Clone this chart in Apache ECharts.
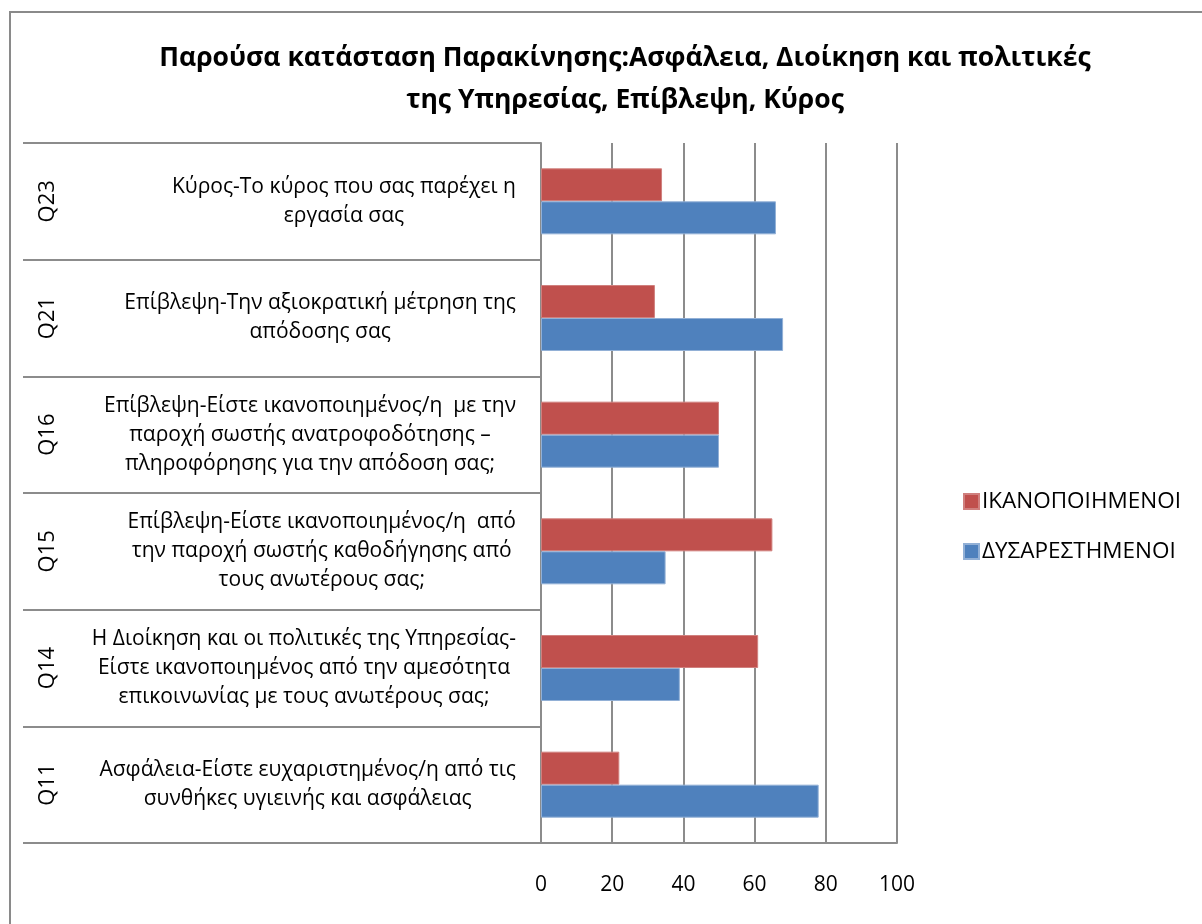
<!DOCTYPE html>
<html>
<head>
<meta charset="utf-8">
<script src="https://cdn.jsdelivr.net/npm/echarts@6/dist/echarts.min.js"></script>
<style>
  html, body { margin: 0; padding: 0; background: #fff; }
  #chart { width: 1202px; height: 924px; }
</style>
</head>
<body>
<div id="chart"></div>
<script>
// Question codes (outer category level), bottom to top
const codes = ['Q11', 'Q14', 'Q15', 'Q16', 'Q21', 'Q23'];

// Question texts (inner category level), line breaks as printed
const questions = [
  'Ασφάλεια-Είστε ευχαριστημένος/η από τις\nσυνθήκες υγιεινής και ασφάλειας',
  'Η Διοίκηση και οι πολιτικές της Υπηρεσίας-\nΕίστε ικανοποιημένος από την αμεσότητα\nεπικοινωνίας με τους ανωτέρους σας;',
  'Επίβλεψη-Είστε ικανοποιημένος/η  από\nτην παροχή σωστής καθοδήγησης από\nτους ανωτέρους σας;',
  'Επίβλεψη-Είστε ικανοποιημένος/η  με την\nπαροχή σωστής ανατροφοδότησης –\nπληροφόρησης για την απόδοση σας;',
  'Επίβλεψη-Την αξιοκρατική μέτρηση της\nαπόδοσης σας',
  'Κύρος-Το κύρος που σας παρέχει η\nεργασία σας'
];

// Percentages per question
const satisfied    = [22, 61, 65, 50, 32, 34];
const dissatisfied = [78, 39, 35, 50, 68, 66];

const seriesNames = ['ΙΚΑΝΟΠΟΙΗΜΕΝΟΙ', 'ΔΥΣΑΡΕΣΤΗΜΕΝΟΙ'];
const xTicks = { min: 0, max: 100, step: 20 };

const FONT = '"Open Sans", "Noto Sans", sans-serif';
const GRID_GRAY = '#8c8c8c';

const chart = echarts.init(document.getElementById('chart'), null, { renderer: 'canvas' });

chart.setOption({
  backgroundColor: '#ffffff',
  animation: false,
  textStyle: { fontFamily: FONT, color: '#000' },
  title: {
    text: 'Παρούσα κατάσταση Παρακίνησης:Ασφάλεια, Διοίκηση και πολιτικές\nτης Υπηρεσίας, Επίβλεψη, Κύρος',
    left: 620,
    top: 32,
    textAlign: 'center',
    textStyle: {
      fontFamily: FONT,
      fontSize: 26.5,
      fontWeight: 'bold',
      color: '#000',
      lineHeight: 42
    }
  },
  legend: {
    orient: 'vertical',
    left: 958,
    top: 485,
    itemWidth: 15,
    itemHeight: 15,
    itemGap: 27,
    icon: 'rect',
    data: seriesNames,
    textStyle: { fontFamily: FONT, fontSize: 22.5, color: '#000', padding: [0, 0, 0, -2] }
  },
  graphic: [{
    type: 'rect',
    shape: { x: 10, y: 12, width: 1400, height: 1200 },
    style: { fill: 'none', stroke: '#8a8a8a', lineWidth: 2 },
    silent: true
  }],
  grid: { left: 541, right: 305, top: 143, bottom: 81, containLabel: false },
  xAxis: {
    type: 'value',
    min: xTicks.min,
    max: xTicks.max,
    interval: xTicks.step,
    axisLine: { show: true, lineStyle: { color: GRID_GRAY, width: 2 } },
    axisTick: { show: false },
    axisLabel: { fontFamily: FONT, fontSize: 21, color: '#000', margin: 32 },
    splitLine: { show: true, lineStyle: { color: GRID_GRAY, width: 2 } }
  },
  yAxis: [{
    type: 'category',
    data: questions,
    position: 'left',
    axisLine: { show: true, lineStyle: { color: GRID_GRAY, width: 2 } },
    axisTick: { show: true, length: 518, lineStyle: { color: GRID_GRAY, width: 2 } },
    axisLabel: {
      interval: 0,
      margin: 25,
      formatter: v => '{q|' + v + '}',
      rich: {
        q: { fontFamily: FONT, fontSize: 21, lineHeight: 29, color: '#000', align: 'center' }
      }
    }
  }, {
    type: 'category',
    data: codes,
    position: 'left',
    axisLine: { show: false },
    axisTick: { show: false },
    axisLabel: {
      interval: 0,
      rotate: 90,
      margin: 482,
      fontFamily: FONT,
      fontSize: 22,
      color: '#000'
    }
  }],
  series: [{
    name: seriesNames[0],
    type: 'bar',
    yAxisIndex: 0,
    data: satisfied,
    barWidth: 33,
    barGap: '0%',
    itemStyle: { color: '#C0504D', borderColor: '#d0807e', borderWidth: 1 }
  }, {
    name: seriesNames[1],
    type: 'bar',
    yAxisIndex: 0,
    data: dissatisfied,
    barWidth: 33,
    barGap: '0%',
    itemStyle: { color: '#4F81BD', borderColor: '#92b0d6', borderWidth: 1 }
  }]
});
</script>
</body>
</html>
